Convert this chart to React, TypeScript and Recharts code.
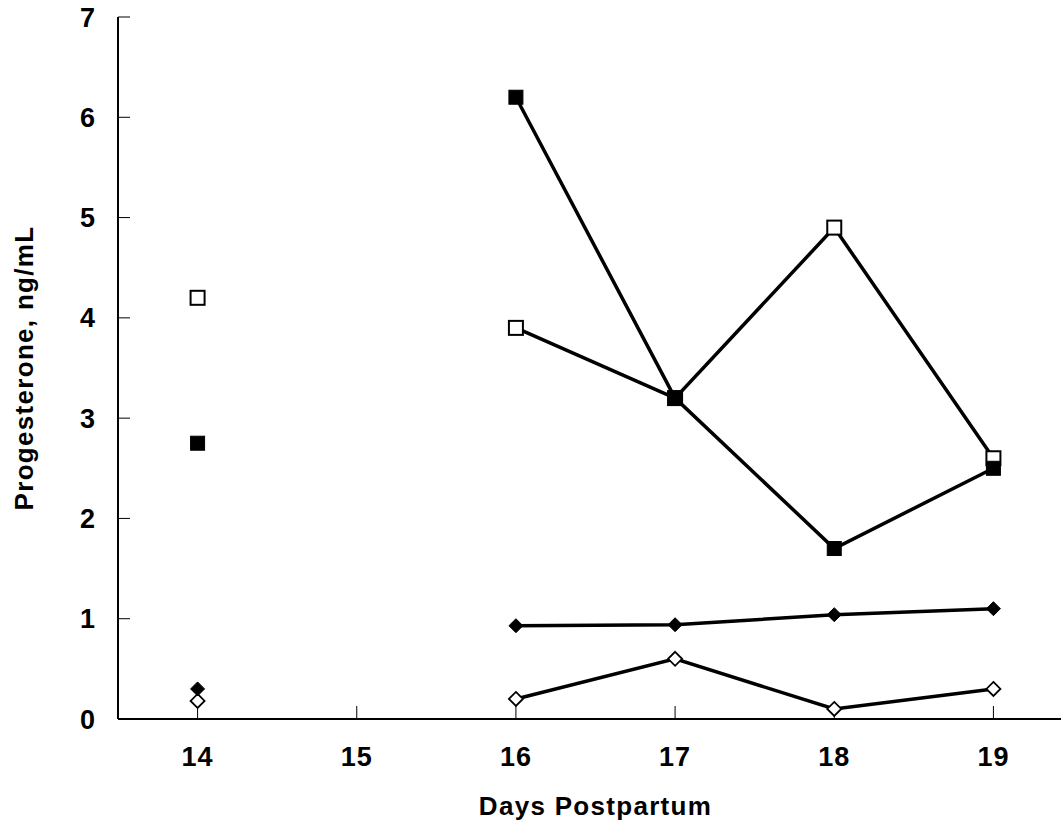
import { LineChart, Line, XAxis, YAxis } from "recharts";

const days = [14, 15, 16, 17, 18, 19];
const filledSquare = [2.75, null, 6.2, 3.2, 1.7, 2.5];
const openSquare = [4.2, null, 3.9, 3.2, 4.9, 2.6];
const filledDiamond = [0.3, null, 0.93, 0.94, 1.04, 1.1];
const openDiamond = [0.18, null, 0.2, 0.6, 0.1, 0.3];
const yTicks = [0, 1, 2, 3, 4, 5, 6, 7];

const data = days.map((d, i) => ({
  day: d,
  fs: filledSquare[i],
  os: openSquare[i],
  fd: filledDiamond[i],
  od: openDiamond[i],
}));

const FONT = "'Liberation Sans', Arial, sans-serif";

function squareDot(fill: string) {
  return (p: any) => {
    if (p.cx == null || p.cy == null || p.value == null) return <g key={p.key} />;
    return (
      <rect key={p.key} x={p.cx - 7} y={p.cy - 7} width={14} height={14}
        fill={fill} stroke="#000" strokeWidth={fill === "#000" ? 1 : 2} />
    );
  };
}

function diamondDot(fill: string) {
  return (p: any) => {
    if (p.cx == null || p.cy == null || p.value == null) return <g key={p.key} />;
    const r = 7;
    return (
      <path key={p.key}
        d={`M${p.cx},${p.cy - r} L${p.cx + r},${p.cy} L${p.cx},${p.cy + r} L${p.cx - r},${p.cy} Z`}
        fill={fill} stroke="#000" strokeWidth={fill === "#000" ? 1 : 1.8} />
    );
  };
}

const tickStyle = { fontFamily: FONT, fontWeight: 700, fontSize: 27, fill: "#000", letterSpacing: 1 };
const labelStyle = { fontFamily: FONT, fontWeight: 700, fontSize: 26, letterSpacing: 1.3 };

export default function App() {
  return (
    <div style={{ position: "absolute", left: 0, top: 0, width: 1061, height: 825, overflow: "hidden", background: "#fff" }}>
      <LineChart width={1073} height={825} data={data} margin={{ top: 17, right: 0, bottom: 0, left: 0 }}>
        <XAxis
          dataKey="day"
          type="number"
          domain={[13.5, 19.5]}
          ticks={days}
          height={106}
          stroke="#000"
          axisLine={{ stroke: "#000", strokeWidth: 2 }}
          tickLine={{ stroke: "#000", strokeWidth: 1 }}
          tickSize={-13}
          tickMargin={41}
          tick={tickStyle}
          label={{
            content: (props: any) => {
              const vb = props.viewBox;
              return (
                <text x={vb.x + vb.width / 2} y={vb.y + 96} textAnchor="middle" style={labelStyle} fill="#000">
                  Days Postpartum
                </text>
              );
            },
          }}
        />
        <YAxis
          type="number"
          domain={[0, 7]}
          ticks={yTicks}
          width={118}
          stroke="#000"
          axisLine={{ stroke: "#000", strokeWidth: 2 }}
          tickLine={{ stroke: "#000", strokeWidth: 1 }}
          tickSize={-12}
          tickMargin={34}
          tick={tickStyle}
          label={{
            content: (props: any) => {
              const vb = props.viewBox;
              const cx = vb.x + 33;
              const cy = vb.y + vb.height / 2;
              return (
                <text x={cx} y={cy} textAnchor="middle" transform={`rotate(-90 ${cx} ${cy})`} style={labelStyle} fill="#000">
                  Progesterone, ng/mL
                </text>
              );
            },
          }}
        />
        <Line dataKey="od" stroke="#000" strokeWidth={3.5} dot={diamondDot("#fff")} isAnimationActive={false} />
        <Line dataKey="fd" stroke="#000" strokeWidth={3.5} dot={diamondDot("#000")} isAnimationActive={false} />
        <Line dataKey="os" stroke="#000" strokeWidth={3.5} dot={squareDot("#fff")} isAnimationActive={false} />
        <Line dataKey="fs" stroke="#000" strokeWidth={3.5} dot={squareDot("#000")} isAnimationActive={false} />
      </LineChart>
    </div>
  );
}
